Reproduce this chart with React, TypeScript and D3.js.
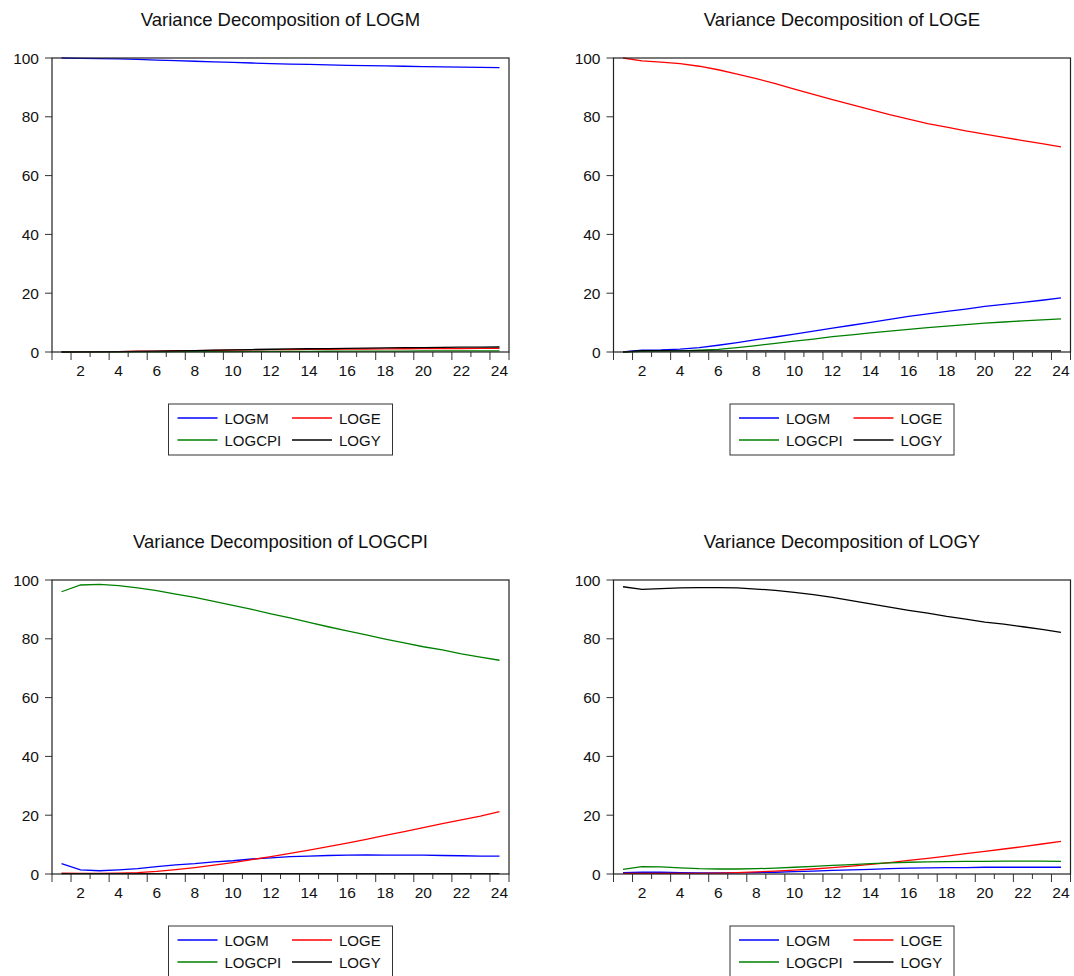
import React, { useEffect, useRef } from 'react'
import * as d3 from 'd3'

// periods (horizon)
const periods = [1, 2, 3, 4, 5, 6, 7, 8, 9, 10, 11, 12, 13, 14, 15, 16, 17, 18, 19, 20, 21, 22, 23, 24]
const seriesNames = ['LOGM', 'LOGE', 'LOGCPI', 'LOGY']
const yTicks = [0, 20, 40, 60, 80, 100]

// Variance Decomposition of LOGM
const logmLOGM = [100, 99.9, 99.8, 99.7, 99.5, 99.3, 99.1, 98.9, 98.7, 98.5, 98.3, 98.1, 97.95, 97.8, 97.65, 97.5, 97.4, 97.3, 97.2, 97.1, 97.0, 96.9, 96.8, 96.7]
const logmLOGE = [0, 0.05, 0.1, 0.15, 0.25, 0.33, 0.42, 0.5, 0.58, 0.64, 0.72, 0.78, 0.83, 0.88, 0.93, 0.98, 1.02, 1.06, 1.1, 1.13, 1.16, 1.18, 1.2, 1.22]
const logmLOGCPI = [0, 0.03, 0.05, 0.05, 0.07, 0.09, 0.1, 0.12, 0.14, 0.16, 0.18, 0.2, 0.22, 0.24, 0.26, 0.28, 0.3, 0.32, 0.33, 0.35, 0.36, 0.38, 0.39, 0.4]
const logmLOGY = [0, 0.02, 0.05, 0.1, 0.18, 0.28, 0.38, 0.5, 0.62, 0.74, 0.84, 0.94, 1.03, 1.1, 1.18, 1.26, 1.33, 1.4, 1.46, 1.52, 1.58, 1.63, 1.67, 1.7]

// Variance Decomposition of LOGE
const logeLOGM = [0, 0.6, 0.7, 1.0, 1.5, 2.3, 3.2, 4.2, 5.1, 6.1, 7.1, 8.1, 9.1, 10.1, 11.1, 12.1, 13.0, 13.8, 14.6, 15.5, 16.2, 16.9, 17.6, 18.4]
const logeLOGE = [100, 99.0, 98.6, 98.1, 97.2, 96.0, 94.5, 93.0, 91.3, 89.4, 87.6, 85.8, 84.1, 82.4, 80.7, 79.2, 77.7, 76.5, 75.2, 74.1, 73.0, 71.9, 70.9, 69.8]
const logeLOGCPI = [0, 0.2, 0.3, 0.4, 0.6, 0.9, 1.5, 2.2, 2.9, 3.7, 4.4, 5.2, 5.8, 6.5, 7.1, 7.7, 8.3, 8.8, 9.3, 9.8, 10.2, 10.6, 10.9, 11.3]
const logeLOGY = [0, 0.45, 0.45, 0.4, 0.4, 0.38, 0.36, 0.35, 0.35, 0.35, 0.35, 0.35, 0.35, 0.35, 0.35, 0.35, 0.35, 0.35, 0.35, 0.35, 0.35, 0.35, 0.35, 0.35]

// Variance Decomposition of LOGCPI
const logcpiLOGM = [3.5, 1.4, 1.1, 1.4, 1.8, 2.5, 3.1, 3.5, 4.1, 4.5, 5.1, 5.5, 5.9, 6.1, 6.3, 6.4, 6.5, 6.4, 6.4, 6.4, 6.3, 6.2, 6.1, 6.1]
const logcpiLOGE = [0.3, 0.2, 0.2, 0.3, 0.5, 0.9, 1.5, 2.2, 3.0, 3.9, 4.9, 5.9, 7.0, 8.1, 9.3, 10.5, 11.8, 13.1, 14.4, 15.8, 17.1, 18.4, 19.7, 21.2]
const logcpiLOGCPI = [96.0, 98.3, 98.5, 98.1, 97.3, 96.4, 95.2, 94.1, 92.7, 91.4, 90.0, 88.5, 87.1, 85.6, 84.1, 82.7, 81.3, 79.9, 78.6, 77.3, 76.2, 74.9, 73.8, 72.7]
const logcpiLOGY = [0.1, 0.1, 0.1, 0.1, 0.1, 0.1, 0.1, 0.1, 0.1, 0.1, 0.1, 0.1, 0.1, 0.1, 0.1, 0.1, 0.1, 0.1, 0.1, 0.1, 0.1, 0.1, 0.1, 0.1]

// Variance Decomposition of LOGY
const logyLOGM = [0.5, 0.6, 0.6, 0.5, 0.4, 0.4, 0.4, 0.5, 0.6, 0.8, 1.0, 1.2, 1.4, 1.6, 1.8, 2.0, 2.1, 2.2, 2.2, 2.3, 2.3, 2.3, 2.3, 2.3]
const logyLOGE = [0.2, 0.2, 0.2, 0.2, 0.2, 0.3, 0.5, 0.7, 1.0, 1.3, 1.7, 2.2, 2.7, 3.3, 3.9, 4.6, 5.3, 6.1, 6.9, 7.7, 8.5, 9.3, 10.2, 11.1]
const logyLOGCPI = [1.6, 2.5, 2.4, 2.1, 1.8, 1.7, 1.7, 1.8, 2.0, 2.3, 2.6, 2.9, 3.2, 3.5, 3.8, 4.0, 4.1, 4.2, 4.3, 4.3, 4.4, 4.4, 4.4, 4.3]
const logyLOGY = [97.7, 96.8, 97.1, 97.3, 97.4, 97.4, 97.3, 96.9, 96.5, 95.8, 95.0, 94.1, 93.0, 91.9, 90.8, 89.7, 88.7, 87.6, 86.7, 85.7, 85.0, 84.1, 83.2, 82.2]

const colors = ['#0000ff', '#ff0000', '#008000', '#000000']
const font = "'Liberation Sans', Arial, sans-serif"

const panels = [
  { title: 'Variance Decomposition of LOGM', series: [logmLOGM, logmLOGE, logmLOGCPI, logmLOGY], left: 52, top: 58 },
  { title: 'Variance Decomposition of LOGE', series: [logeLOGM, logeLOGE, logeLOGCPI, logeLOGY], left: 613.5, top: 58 },
  { title: 'Variance Decomposition of LOGCPI', series: [logcpiLOGM, logcpiLOGE, logcpiLOGCPI, logcpiLOGY], left: 52, top: 580 },
  { title: 'Variance Decomposition of LOGY', series: [logyLOGM, logyLOGE, logyLOGCPI, logyLOGY], left: 613.5, top: 580 },
]

export default function App() {
  const ref = useRef<SVGSVGElement | null>(null)

  useEffect(() => {
    const svg = d3.select(ref.current)
    svg.selectAll('*').remove()
    const pw = 457
    const ph = 294

    panels.forEach(p => {
      const g = svg.append('g').attr('transform', 'translate(' + p.left + ',' + p.top + ')')
      const x = d3.scaleBand<number>().domain(periods).range([0, pw]).padding(0)
      const bw = x.bandwidth()
      const y = d3.scaleLinear().domain([0, 100]).range([ph, 0])

      // title
      g.append('text')
        .attr('x', pw / 2)
        .attr('y', -32)
        .attr('text-anchor', 'middle')
        .attr('font-family', font)
        .attr('font-size', 18.5)
        .attr('fill', '#111')
        .text(p.title)

      // y axis ticks + labels
      yTicks.forEach(t => {
        g.append('line')
          .attr('x1', -7).attr('x2', 0)
          .attr('y1', y(t)).attr('y2', y(t))
          .attr('stroke', '#333')
        g.append('text')
          .attr('x', -13)
          .attr('y', y(t) + 5.5)
          .attr('text-anchor', 'end')
          .attr('font-family', font)
          .attr('font-size', 15.5)
          .attr('fill', '#111')
          .text(t)
      })

      // x ticks at band boundaries, labels at even periods
      d3.range(0, periods.length + 1).forEach(k => {
        const long = k % 2 === 1 || k === 0 || k === periods.length
        g.append('line')
          .attr('x1', k * bw).attr('x2', k * bw)
          .attr('y1', ph).attr('y2', ph + (long ? 8 : 5))
          .attr('stroke', '#333')
      })
      periods.filter(d => d % 2 === 0).forEach(d => {
        g.append('text')
          .attr('x', (x(d) as number) + bw / 2)
          .attr('y', ph + 24)
          .attr('text-anchor', 'middle')
          .attr('font-family', font)
          .attr('font-size', 15.5)
          .attr('fill', '#111')
          .text(d)
      })

      // lines
      const line = d3.line<number>()
        .x((_, i) => (x(periods[i]) as number) + bw / 2)
        .y(v => y(v))
      p.series.forEach((s, i) => {
        g.append('path')
          .datum(s)
          .attr('fill', 'none')
          .attr('stroke', colors[i])
          .attr('stroke-width', 1.3)
          .attr('d', line)
      })

      // frame
      g.append('rect')
        .attr('x', 0).attr('y', 0)
        .attr('width', pw).attr('height', ph)
        .attr('fill', 'none')
        .attr('stroke', '#222')
        .attr('stroke-width', 1.2)

      // legend
      const lw = 224
      const lg = g.append('g').attr('transform', 'translate(' + (pw / 2 - lw / 2) + ',' + (ph + 52) + ')')
      lg.append('rect')
        .attr('width', lw).attr('height', 51)
        .attr('fill', 'white')
        .attr('stroke', '#333')
      seriesNames.forEach((name, i) => {
        const cx = i % 2 === 0 ? 9 : 123.5
        const cy = i < 2 ? 14 : 36
        lg.append('line')
          .attr('x1', cx).attr('x2', cx + 40)
          .attr('y1', cy).attr('y2', cy)
          .attr('stroke', colors[i])
          .attr('stroke-width', 1.3)
        lg.append('text')
          .attr('x', cx + 47)
          .attr('y', cy + 5.5)
          .attr('font-family', font)
          .attr('font-size', 15)
          .attr('fill', '#111')
          .text(name)
      })
    })
  }, [])

  return (
    <svg
      ref={ref}
      width={1074}
      height={976}
      style={{ position: 'absolute', left: 0, top: 0, background: 'white' }}
    />
  )
}
